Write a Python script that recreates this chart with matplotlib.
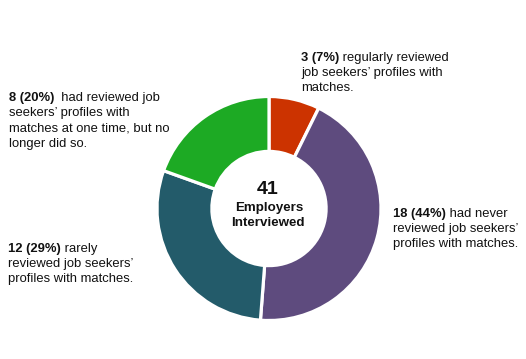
import matplotlib
matplotlib.use("Agg")
import matplotlib.pyplot as plt
from matplotlib.transforms import Affine2D

counts = [3, 18, 12, 8]
percents = ["7%", "44%", "29%", "20%"]
colors = ["#CC3300", "#5E4B7E", "#235B6A", "#1DAA24"]
label_rest = [
    ["regularly reviewed", "job seekers\u2019 profiles with", "matches."],
    ["had never", "reviewed job seekers\u2019", "profiles with matches."],
    ["rarely", "reviewed job seekers\u2019", "profiles with matches."],
    [" had reviewed job", "seekers\u2019 profiles with", "matches at one time, but no", "longer did so."],
]
total_label = "41"
center_lines = ["Employers", "Interviewed"]

W, H = 526, 359
fig = plt.figure(figsize=(W / 100, H / 100), dpi=100)
fig.patch.set_facecolor("white")
FONT = "Liberation Sans"

cx, cy, R = 269, 208.5, 112
ax = fig.add_axes([(cx - R) / W, (H - cy - R) / H, 2 * R / W, 2 * R / H])
ax.pie(counts, colors=colors, startangle=90, counterclock=False, radius=1.0,
       wedgeprops=dict(width=0.49, edgecolor="white", linewidth=2.3))
ax.set_xlim(-1, 1)
ax.set_ylim(-1, 1)
ax.set_aspect("equal")
ax.axis("off")

# pixel transform (origin top-left)
pix = Affine2D().scale(1.0 / W, -1.0 / H).translate(0, 1) + fig.transFigure

fs = 9.4
positions = [(301, 61), (393, 217), (8, 252), (9, 101)]
spacing = 15.2
for i, (x, yb) in enumerate(positions):
    bold = f"{counts[i]} ({percents[i]})"
    lines = label_rest[i]
    t = fig.text(x, yb, bold, transform=pix, fontsize=fs, fontweight="bold",
                 family=FONT, va="baseline", ha="left", color="#111111")
    plt.annotate(" " + lines[0], xy=(1, 0), xycoords=t, fontsize=fs,
                 family=FONT, va="bottom", ha="left", color="#111111",
                 annotation_clip=False)
    for j, ln in enumerate(lines[1:], start=1):
        fig.text(x, yb + j * spacing, ln, transform=pix, fontsize=fs,
                 family=FONT, va="baseline", ha="left", color="#111111")

fig.text(268, 194, total_label, transform=pix, fontsize=14, fontweight="bold",
         family=FONT, va="baseline", ha="center", color="#111111")
fig.text(269, 210.5, center_lines[0], transform=pix, fontsize=9.6, fontweight="bold",
         family=FONT, va="baseline", ha="center", color="#111111")
fig.text(268, 226, center_lines[1], transform=pix, fontsize=9.6, fontweight="bold",
         family=FONT, va="baseline", ha="center", color="#111111")

fig.savefig("out.png", dpi=100, facecolor="white")
